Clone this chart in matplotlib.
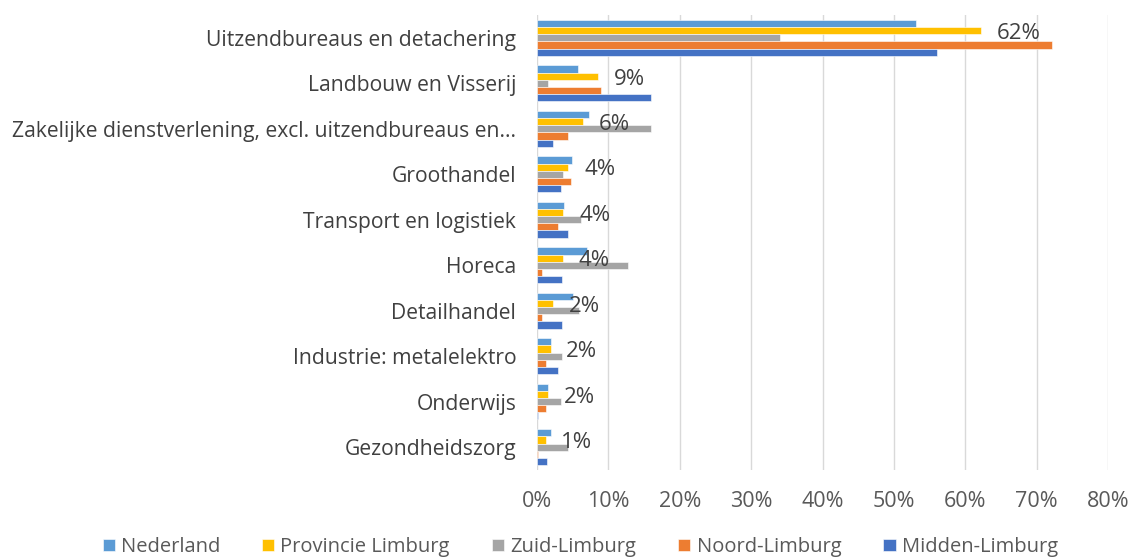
import matplotlib.pyplot as plt
import numpy as np

plt.rcParams['font.family'] = ['Open Sans', 'DejaVu Sans']

categories = ["Uitzendbureaus en detachering", "Landbouw en Visserij",
              "Zakelijke dienstverlening, excl. uitzendbureaus en...",
              "Groothandel", "Transport en logistiek", "Horeca", "Detailhandel",
              "Industrie: metalelektro", "Onderwijs", "Gezondheidszorg"]
nederland = [53.1, 5.8, 7.3, 4.9, 3.8, 7.0, 5.0, 2.0, 1.6, 1.9]
provincie = [62.2, 8.5, 6.4, 4.4, 3.7, 3.6, 2.2, 1.9, 1.6, 1.2]
zuid = [34.0, 1.5, 15.9, 3.7, 6.1, 12.8, 5.9, 3.5, 3.4, 4.4]
noord = [72.1, 8.9, 4.4, 4.8, 2.9, 0.7, 0.7, 1.2, 1.3, 0.1]
midden = [56.0, 16.0, 2.2, 3.4, 4.4, 3.5, 3.5, 3.0, 0.1, 1.4]
labels = ["62%", "9%", "6%", "4%", "4%", "4%", "2%", "2%", "2%", "1%"]

series = [("Nederland", nederland, "#5b9bd5"),
          ("Provincie Limburg", provincie, "#ffc000"),
          ("Zuid-Limburg", zuid, "#a5a5a5"),
          ("Noord-Limburg", noord, "#ed7d31"),
          ("Midden-Limburg", midden, "#4472c4")]

fig = plt.figure(figsize=(11.33, 5.6), dpi=100)
ax = fig.add_axes([0.474, 0.161, 0.504, 0.812])

y = np.arange(len(categories))
h = 0.157
for i, (name, vals, col) in enumerate(series):
    ax.barh(y + (i - 2) * h, vals, height=h, color=col, label=name,
            edgecolor='white', linewidth=0.4)

# data labels sit next to the Provincie Limburg bars
for yi, v, lab in zip(y, provincie, labels):
    ax.text(v + 2.2, yi - h * 0.6, lab, va='center', ha='left', fontsize=16, color='#404040')

ax.set_xlim(0, 80)
ax.set_ylim(len(categories) - 0.5, -0.5)
ax.set_xticks(np.arange(0, 81, 10))
ax.set_xticklabels([f"{t}%" for t in range(0, 81, 10)])
ax.set_yticks(y)
ax.set_yticklabels(categories)
ax.tick_params(axis='x', length=0, pad=15, labelsize=15.5, labelcolor='#595959')
ax.tick_params(axis='y', length=0, pad=15, labelsize=15.2, labelcolor='#404040')
ax.grid(axis='x', color='#d9d9d9', linewidth=1)
ax.set_axisbelow(True)
for s in ax.spines.values():
    s.set_visible(False)

fig.legend(loc='lower center', bbox_to_anchor=(0.512, -0.027), ncol=5, frameon=False,
           fontsize=14.5, handlelength=0.6, handleheight=0.6, handletextpad=0.3,
           columnspacing=2.1, labelcolor='#595959')

fig.savefig('out.png', dpi=100)
